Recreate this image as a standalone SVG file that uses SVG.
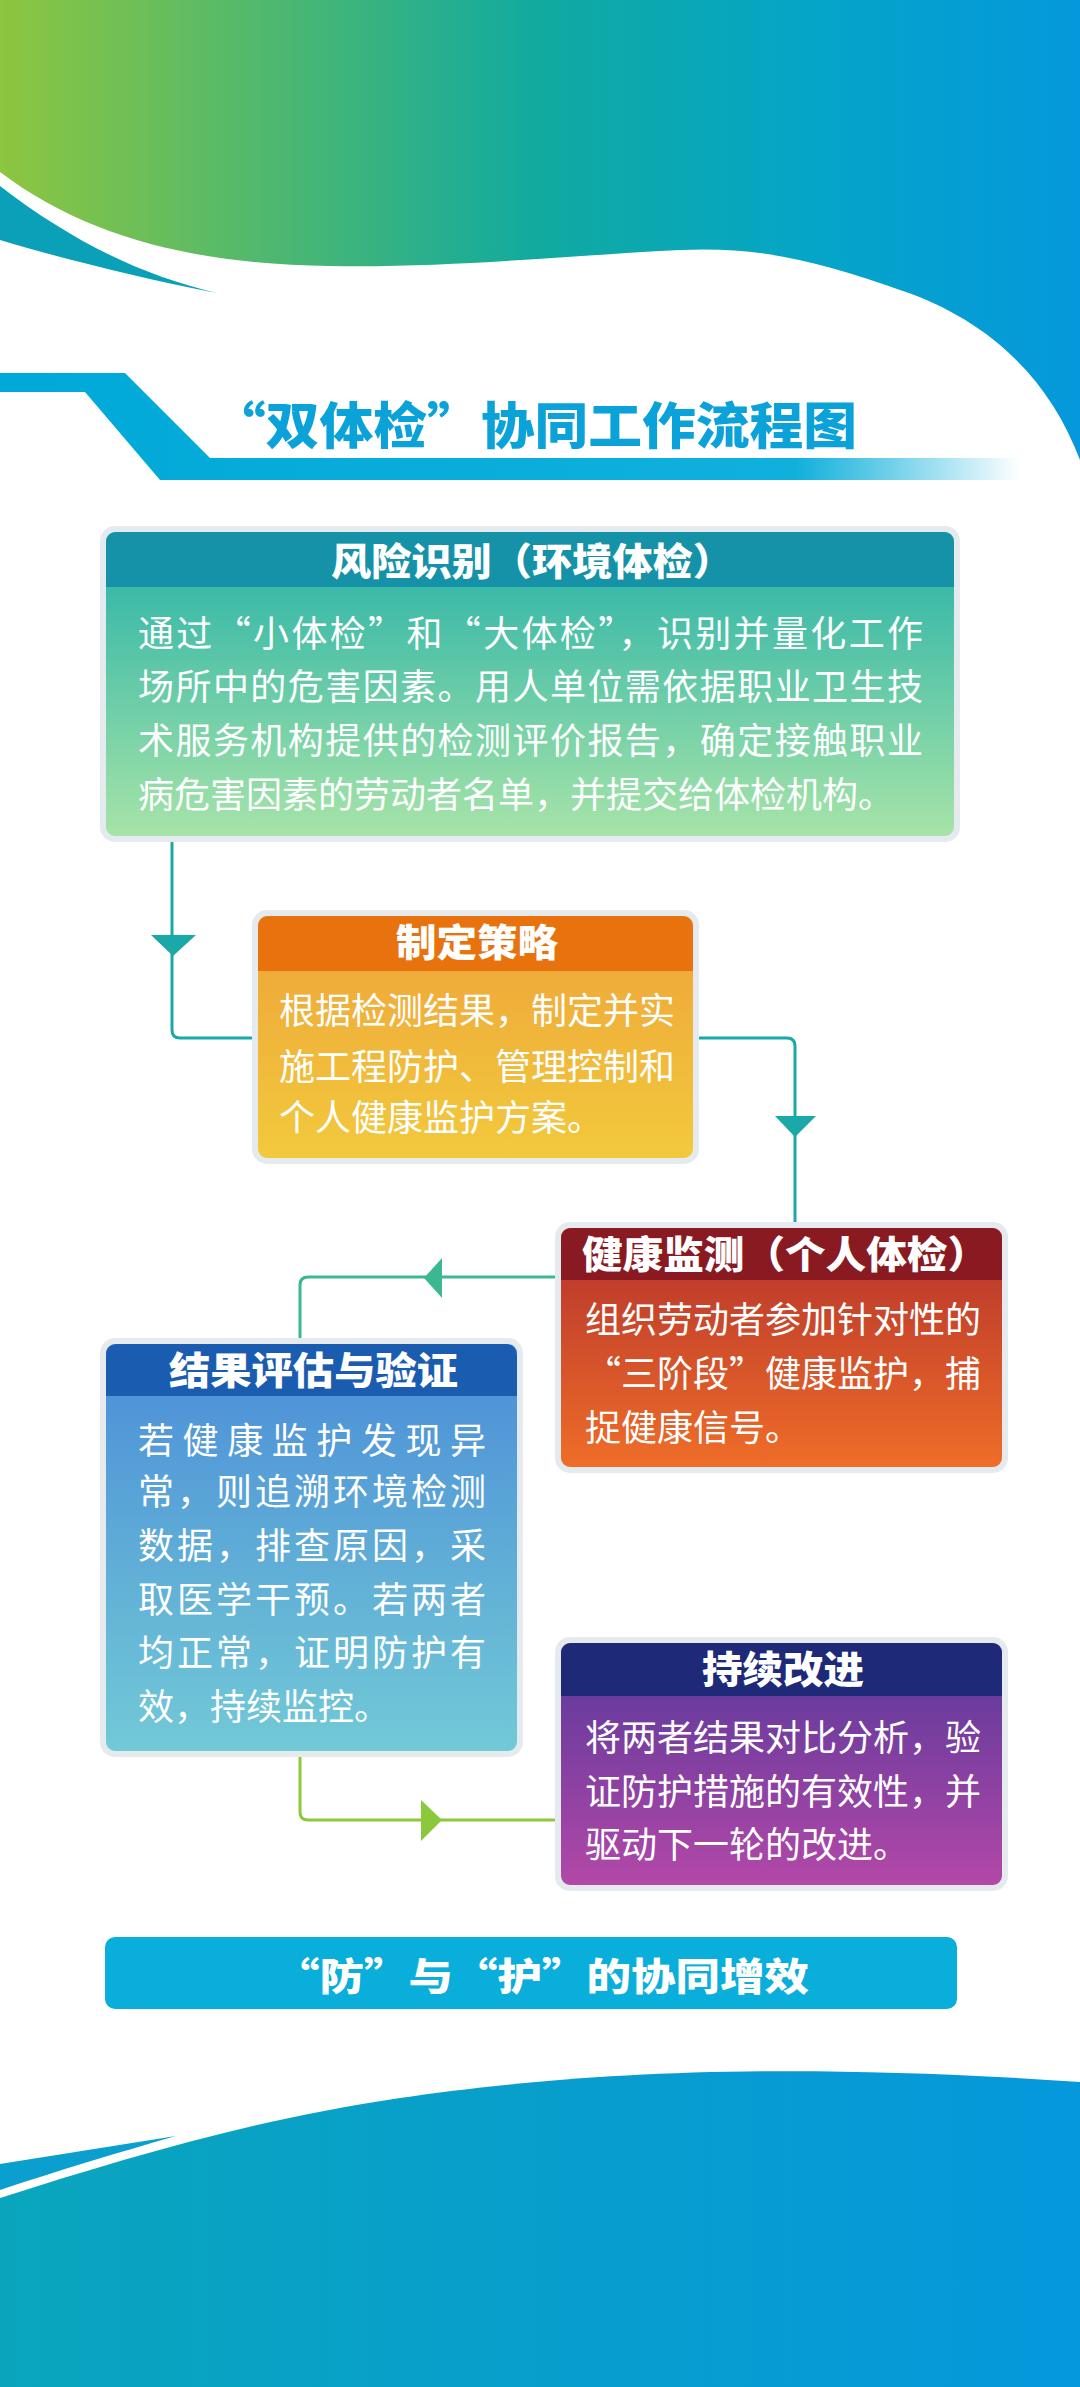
<svg xmlns="http://www.w3.org/2000/svg" width="1080" height="2387" viewBox="0 0 1080 2387">
<defs>
<linearGradient id="gTop" x1="0" y1="0" x2="1" y2="0"><stop offset="0" stop-color="#8dc63f"/><stop offset="0.5" stop-color="#10aaa0"/><stop offset="0.75" stop-color="#05a5c8"/><stop offset="1" stop-color="#0598dc"/></linearGradient>
<linearGradient id="gBot" x1="0" y1="0" x2="1" y2="0"><stop offset="0" stop-color="#0aa5bd"/><stop offset="1" stop-color="#0598dc"/></linearGradient>
<linearGradient id="gBand" x1="0" y1="0" x2="1" y2="0"><stop offset="0" stop-color="#00a9d8"/><stop offset="0.78" stop-color="#10b0dc"/><stop offset="1" stop-color="#00a9d8" stop-opacity="0"/></linearGradient>
<linearGradient id="g1" x1="0" y1="0" x2="0" y2="1"><stop offset="0" stop-color="#22b0a8"/><stop offset="1" stop-color="#a8e4a8"/></linearGradient>
<linearGradient id="g2" x1="0" y1="0" x2="0" y2="1"><stop offset="0" stop-color="#eea23a"/><stop offset="1" stop-color="#f2ca3c"/></linearGradient>
<linearGradient id="g3" x1="0" y1="0" x2="0" y2="1"><stop offset="0" stop-color="#b2302c"/><stop offset="1" stop-color="#f06e28"/></linearGradient>
<linearGradient id="g4" x1="0" y1="0" x2="0" y2="1"><stop offset="0" stop-color="#4a8cd8"/><stop offset="1" stop-color="#72cad6"/></linearGradient>
<linearGradient id="g5" x1="0" y1="0" x2="0" y2="1"><stop offset="0" stop-color="#54389a"/><stop offset="1" stop-color="#b448a8"/></linearGradient>
</defs>
<style>
.box{stroke:#e4eaee;stroke-width:6}
.hd{font-family:"Noto Sans CJK SC","Noto Sans",sans-serif;font-weight:900;font-size:38px;fill:#fff}
.bd{font-family:"Noto Sans CJK SC","Noto Sans",sans-serif;font-size:36px;fill:#fff}
.ln{fill:none;stroke-width:3}
</style>
<g id="background">
<path d="M0,0 H1080 V460 C1050,380 990,320 900,290 C820,262 760,246 680,250 C560,256 450,268 330,266 C200,264 90,240 0,172 Z" fill="url(#gTop)"/>
<path d="M0,186 C70,240 140,275 217,293 C140,278 60,258 0,240 Z" fill="#0aa0b8"/>
<path d="M0,373 H125 L210,458 H1020 V480 H160 L85,392 H0 Z" fill="url(#gBand)"/>
<text x="212" y="444" font-family="'Noto Sans CJK SC',sans-serif" font-weight="900" font-size="50" fill="#0aa2d8" textLength="645" lengthAdjust="spacingAndGlyphs">“双体检”协同工作流程图</text>
<path d="M0,2198 C120,2160 250,2120 400,2098 C560,2075 760,2060 1080,2082 V2387 H0 Z" fill="url(#gBot)"/>
<path d="M0,2164 L176,2136 C120,2152 60,2170 0,2190 Z" fill="#0a9fce"/>
</g>
<g id="connectors">
<path class="ln" stroke="#1aa8a8" d="M172,839 V1030 Q172,1038 180,1038 H258"/>
<polygon fill="#1aa8a8" points="151,935 196,935 173,956"/>
<path class="ln" stroke="#1aa8a8" d="M696,1038 H787 Q795,1038 795,1046 V1225"/>
<polygon fill="#1aa8a8" points="775,1116 816,1116 795,1137"/>
<path class="ln" stroke="#3cb890" d="M558,1277 H308 Q300,1277 300,1285 V1340"/>
<polygon fill="#3cb890" points="424,1278 442,1258 442,1298"/>
<path class="ln" stroke="#8cc83c" d="M300,1754 V1812 Q300,1820 308,1820 H558"/>
<polygon fill="#8cc83c" points="442,1820 421,1800 421,1841"/>
</g>
<g id="node1">
<rect class="box" x="103" y="529" width="854" height="310" rx="12" fill="url(#g1)"/>
<path d="M106,587 V544 Q106,532 118,532 H942 Q954,532 954,544 V587 Z" fill="#1592a8"/>
<text class="hd" x="331" y="575" textLength="402" lengthAdjust="spacingAndGlyphs">风险识别（环境体检）</text>
<text class="bd" x="138" y="647" textLength="785" lengthAdjust="spacing">通过“小体检”和“大体检”，识别并量化工作</text>
<text class="bd" x="138" y="700" textLength="785" lengthAdjust="spacing">场所中的危害因素。用人单位需依据职业卫生技</text>
<text class="bd" x="138" y="754" textLength="785" lengthAdjust="spacing">术服务机构提供的检测评价报告，确定接触职业</text>
<text class="bd" x="138" y="808">病危害因素的劳动者名单，并提交给体检机构。</text>
</g>
<g id="node2">
<rect class="box" x="255" y="913" width="441" height="248" rx="12" fill="url(#g2)"/>
<path d="M258,971 V928 Q258,916 270,916 H681 Q693,916 693,928 V971 Z" fill="#e8730e"/>
<text class="hd" x="396" y="956" textLength="162" lengthAdjust="spacingAndGlyphs">制定策略</text>
<text class="bd" x="279" y="1024">根据检测结果，制定并实</text>
<text class="bd" x="279" y="1080">施工程防护、管理控制和</text>
<text class="bd" x="279" y="1131">个人健康监护方案。</text>
</g>
<g id="node3">
<rect class="box" x="558" y="1225" width="447" height="245" rx="12" fill="url(#g3)"/>
<path d="M561,1280 V1240 Q561,1228 573,1228 H990 Q1002,1228 1002,1240 V1280 Z" fill="#8a1a22"/>
<text class="hd" x="582" y="1268" textLength="406" lengthAdjust="spacingAndGlyphs">健康监测（个人体检）</text>
<text class="bd" x="585" y="1333">组织劳动者参加针对性的</text>
<text class="bd" x="585" y="1387" textLength="396" lengthAdjust="spacing">“三阶段”健康监护，捕</text>
<text class="bd" x="585" y="1441">捉健康信号。</text>
</g>
<g id="node4">
<rect class="box" x="103" y="1341" width="417" height="413" rx="12" fill="url(#g4)"/>
<path d="M106,1396 V1356 Q106,1344 118,1344 H505 Q517,1344 517,1356 V1396 Z" fill="#1a5cb0"/>
<text class="hd" x="169" y="1384" textLength="289" lengthAdjust="spacingAndGlyphs">结果评估与验证</text>
<text class="bd" x="138" y="1454" textLength="348" lengthAdjust="spacing">若健康监护发现异</text>
<text class="bd" x="138" y="1505" textLength="348" lengthAdjust="spacing">常，则追溯环境检测</text>
<text class="bd" x="138" y="1559" textLength="348" lengthAdjust="spacing">数据，排查原因，采</text>
<text class="bd" x="138" y="1613" textLength="348" lengthAdjust="spacing">取医学干预。若两者</text>
<text class="bd" x="138" y="1666" textLength="348" lengthAdjust="spacing">均正常，证明防护有</text>
<text class="bd" x="138" y="1720">效，持续监控。</text>
</g>
<g id="node5">
<rect class="box" x="558" y="1640" width="447" height="248" rx="12" fill="url(#g5)"/>
<path d="M561,1696 V1655 Q561,1643 573,1643 H990 Q1002,1643 1002,1655 V1696 Z" fill="#1e2a78"/>
<text class="hd" x="702" y="1683" textLength="162" lengthAdjust="spacingAndGlyphs">持续改进</text>
<text class="bd" x="585" y="1751">将两者结果对比分析，验</text>
<text class="bd" x="585" y="1805">证防护措施的有效性，并</text>
<text class="bd" x="585" y="1858">驱动下一轮的改进。</text>
</g>
<g id="footer">
<rect x="105" y="1937" width="852" height="72" rx="10" fill="#0aaedb"/>
<text class="hd" x="275" y="1990" font-size="40" textLength="534" lengthAdjust="spacingAndGlyphs">“防”与“护”的协同增效</text>
</g>
</svg>
